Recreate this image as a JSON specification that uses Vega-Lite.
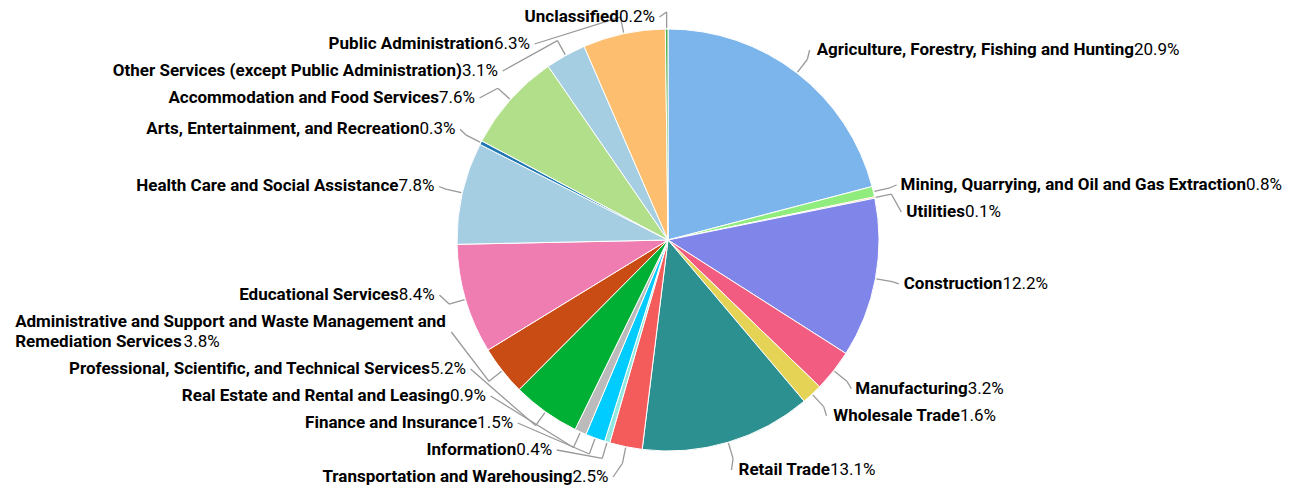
{
  "$schema": "https://vega.github.io/schema/vega-lite/v6.json",
  "width": 1292,
  "height": 489,
  "padding": 0,
  "autosize": {"type": "fit", "contains": "padding"},
  "background": "#ffffff",
  "config": {"view": {"stroke": null}, "font": "Roboto"},
  "data": {
    "values": [
      {"rank": 1, "industry": "Agriculture, Forestry, Fishing and Hunting", "share": 20.9},
      {"rank": 2, "industry": "Mining, Quarrying, and Oil and Gas Extraction", "share": 0.8},
      {"rank": 3, "industry": "Utilities", "share": 0.1},
      {"rank": 4, "industry": "Construction", "share": 12.2},
      {"rank": 5, "industry": "Manufacturing", "share": 3.2},
      {"rank": 6, "industry": "Wholesale Trade", "share": 1.6},
      {"rank": 7, "industry": "Retail Trade", "share": 13.1},
      {"rank": 8, "industry": "Transportation and Warehousing", "share": 2.5},
      {"rank": 9, "industry": "Information", "share": 0.4},
      {"rank": 10, "industry": "Finance and Insurance", "share": 1.5},
      {"rank": 11, "industry": "Real Estate and Rental and Leasing", "share": 0.9},
      {"rank": 12, "industry": "Professional, Scientific, and Technical Services", "share": 5.2},
      {"rank": 13, "industry": "Administrative and Support and Waste Management and Remediation Services", "share": 3.8},
      {"rank": 14, "industry": "Educational Services", "share": 8.4},
      {"rank": 15, "industry": "Health Care and Social Assistance", "share": 7.8},
      {"rank": 16, "industry": "Arts, Entertainment, and Recreation", "share": 0.3},
      {"rank": 17, "industry": "Accommodation and Food Services", "share": 7.6},
      {"rank": 18, "industry": "Other Services (except Public Administration)", "share": 3.1},
      {"rank": 19, "industry": "Public Administration", "share": 6.3},
      {"rank": 20, "industry": "Unclassified", "share": 0.2}
    ]
  },
  "transform": [
    {"window": [{"op": "sum", "field": "share", "as": "cum"}], "sort": [{"field": "rank", "order": "ascending"}], "frame": [null, 0]},
    {"joinaggregate": [{"op": "sum", "field": "share", "as": "total"}]},
    {"calculate": "2*PI*(datum.cum - datum.share/2)/datum.total", "as": "ang"},
    {"calculate": "sin(datum.ang) < 0 ? 'L' : 'R'", "as": "side"},
    {"calculate": "-240*cos(datum.ang)", "as": "nyd"},
    {"calculate": "format(datum.share, '.1f') + '%'", "as": "pct"},
    {"calculate": "length(datum.industry) > 55 ? lastindexof(substring(datum.industry, 0, 52), ' ') : -1", "as": "brk"},
    {"calculate": "datum.brk > 0 ? 2 : 1", "as": "lines"},
    {"calculate": "datum.brk > 0 ? substring(datum.industry, 0, datum.brk) : datum.industry", "as": "l1"},
    {"calculate": "datum.brk > 0 ? substring(datum.industry, datum.brk + 1) : ''", "as": "l2"},
    {"calculate": "17*(0.25*length(replace(datum.l1, regexp('[^ilj ,.I]','g'), '')) + 0.345*length(replace(datum.l1, regexp('[^frt()]','g'), '')) + 0.86*length(replace(datum.l1, regexp('[^mwMW]','g'), '')) + 0.655*length(replace(datum.l1, regexp('[^A-HJ-LN-VX-Z]','g'), '')) + 0.55*length(replace(datum.l1, regexp('[^a-eghknopqsuvxyz]','g'), '')))", "as": "w1"},
    {"calculate": "17*(0.25*length(replace(datum.l2, regexp('[^ilj ,.I]','g'), '')) + 0.345*length(replace(datum.l2, regexp('[^frt()]','g'), '')) + 0.86*length(replace(datum.l2, regexp('[^mwMW]','g'), '')) + 0.655*length(replace(datum.l2, regexp('[^A-HJ-LN-VX-Z]','g'), '')) + 0.55*length(replace(datum.l2, regexp('[^a-eghknopqsuvxyz]','g'), '')))", "as": "w2"},
    {"calculate": "17*(0.5615*(length(datum.pct)-2) + 0.257 + 0.715)", "as": "pw"},
    {"calculate": "datum.lines == 2 ? 47 : 27", "as": "slot"},
    {"window": [{"op": "sum", "field": "slot", "as": "cs"}, {"op": "first_value", "field": "slot", "as": "s0"}], "groupby": ["side"], "sort": [{"field": "nyd", "order": "ascending"}], "frame": [null, 0], "ignorePeers": true},
    {"calculate": "datum.cs - datum.s0/2 - datum.slot/2", "as": "off"},
    {"calculate": "datum.nyd - datum.off", "as": "v1"},
    {"window": [{"op": "max", "field": "v1", "as": "m1"}], "groupby": ["side"], "sort": [{"field": "nyd", "order": "ascending"}], "frame": [null, 0], "ignorePeers": true},
    {"calculate": "max(datum.m1, -223) + datum.off", "as": "y1"},
    {"calculate": "datum.y1 - datum.off", "as": "v2"},
    {"window": [{"op": "min", "field": "v2", "as": "m2"}], "groupby": ["side"], "sort": [{"field": "nyd", "order": "ascending"}], "frame": [0, null], "ignorePeers": true},
    {"joinaggregate": [{"op": "max", "field": "off", "as": "offLast"}], "groupby": ["side"]},
    {"calculate": "min(datum.m2, 237 - datum.offLast) + datum.off", "as": "ly"},
    {"calculate": "abs(datum.ly + 223) < 0.5 || abs(datum.ly - 237) < 0.5", "as": "ext"},
    {"calculate": "datum.ext ? datum.nyd : datum.ly", "as": "yx"},
    {"calculate": "sqrt(max(57600 - datum.yx*datum.yx, 0)) + (datum.ext ? 12 : 0)", "as": "dxl"},
    {"calculate": "datum.side == 'L' ? -datum.dxl : datum.dxl", "as": "tx"},
    {"calculate": "datum.side == 'L' ? -datum.dxl + 5 : datum.dxl - 5", "as": "cx"},
    {"calculate": "212*sin(datum.ang)", "as": "ex"},
    {"calculate": "-212*cos(datum.ang)", "as": "ey"},
    {"calculate": "228*sin(datum.ang)", "as": "bx"},
    {"calculate": "-228*cos(datum.ang)", "as": "by"},
    {"calculate": "datum.side == 'L' ? datum.tx - datum.pw : datum.tx + datum.w1", "as": "jx"},
    {"calculate": "datum.side == 'L' ? datum.tx - max(datum.w1, datum.w2 + datum.pw) : datum.tx", "as": "sx"},
    {"calculate": "datum.lines == 2 ? datum.sx + datum.w2 : datum.jx", "as": "px"},
    {"calculate": "datum.ly + (datum.lines == 2 ? 10 : 0)", "as": "py"},
    {"calculate": "datum.ly - 10", "as": "my"}
  ],
  "layer": [
    {
      "mark": {"type": "arc", "outerRadius": 211, "stroke": "#ffffff", "strokeWidth": 1},
      "encoding": {
        "theta": {"field": "share", "type": "quantitative", "stack": true},
        "order": {"field": "rank", "type": "quantitative"},
        "color": {
          "field": "industry",
          "type": "nominal",
          "legend": null,
          "scale": {
            "domain": [
              "Agriculture, Forestry, Fishing and Hunting",
              "Mining, Quarrying, and Oil and Gas Extraction",
              "Utilities",
              "Construction",
              "Manufacturing",
              "Wholesale Trade",
              "Retail Trade",
              "Transportation and Warehousing",
              "Information",
              "Finance and Insurance",
              "Real Estate and Rental and Leasing",
              "Professional, Scientific, and Technical Services",
              "Administrative and Support and Waste Management and Remediation Services",
              "Educational Services",
              "Health Care and Social Assistance",
              "Arts, Entertainment, and Recreation",
              "Accommodation and Food Services",
              "Other Services (except Public Administration)",
              "Public Administration",
              "Unclassified"
            ],
            "range": [
              "#7cb5ec", "#90ed7d", "#f7a35c", "#8085e9", "#f15c80", "#e4d354", "#2b908f", "#f45b5b", "#91e8e1", "#00ccff",
              "#bbbbbb", "#00b034", "#c94c15", "#ef7db2", "#a6cee3", "#1f78b4", "#b2df8a", "#a6cee3", "#fdbf6f", "#4cae4c"
            ]
          }
        },
        "x": {"datum": 0, "type": "quantitative", "axis": null, "scale": {"domain": [-668, 624], "nice": false, "zero": false}},
        "y": {"datum": 0, "type": "quantitative", "axis": null, "scale": {"domain": [-240, 249], "reverse": true, "nice": false, "zero": false}}
      }
    },
    {
      "mark": {"type": "rule", "stroke": "#999999", "strokeWidth": 1.3},
      "encoding": {
        "x": {"field": "ex", "type": "quantitative", "axis": null, "scale": {"domain": [-668, 624], "nice": false, "zero": false}},
        "y": {"field": "ey", "type": "quantitative", "axis": null, "scale": {"domain": [-240, 249], "reverse": true, "nice": false, "zero": false}},
        "x2": {"field": "bx"},
        "y2": {"field": "by"}
      }
    },
    {
      "mark": {"type": "rule", "stroke": "#999999", "strokeWidth": 1.3},
      "encoding": {
        "x": {"field": "bx", "type": "quantitative", "axis": null, "scale": {"domain": [-668, 624], "nice": false, "zero": false}},
        "y": {"field": "by", "type": "quantitative", "axis": null, "scale": {"domain": [-240, 249], "reverse": true, "nice": false, "zero": false}},
        "x2": {"field": "cx"},
        "y2": {"field": "ly"}
      }
    },
    {
      "transform": [{"filter": "datum.lines == 1"}],
      "mark": {"type": "text", "align": "right", "baseline": "middle", "font": "Roboto", "fontSize": 17, "fontWeight": "bold", "color": "#000000"},
      "encoding": {
        "x": {"field": "jx", "type": "quantitative", "axis": null, "scale": {"domain": [-668, 624], "nice": false, "zero": false}},
        "y": {"field": "ly", "type": "quantitative", "axis": null, "scale": {"domain": [-240, 249], "reverse": true, "nice": false, "zero": false}},
        "text": {"field": "l1", "type": "nominal"}
      }
    },
    {
      "transform": [{"filter": "datum.lines == 2"}],
      "mark": {"type": "text", "align": "left", "baseline": "middle", "font": "Roboto", "fontSize": 17, "fontWeight": "bold", "color": "#000000"},
      "encoding": {
        "x": {"field": "sx", "type": "quantitative", "axis": null, "scale": {"domain": [-668, 624], "nice": false, "zero": false}},
        "y": {"field": "my", "type": "quantitative", "axis": null, "scale": {"domain": [-240, 249], "reverse": true, "nice": false, "zero": false}},
        "text": {"field": "l1", "type": "nominal"}
      }
    },
    {
      "transform": [{"filter": "datum.lines == 2"}],
      "mark": {"type": "text", "align": "left", "baseline": "middle", "font": "Roboto", "fontSize": 17, "fontWeight": "bold", "color": "#000000"},
      "encoding": {
        "x": {"field": "sx", "type": "quantitative", "axis": null, "scale": {"domain": [-668, 624], "nice": false, "zero": false}},
        "y": {"field": "py", "type": "quantitative", "axis": null, "scale": {"domain": [-240, 249], "reverse": true, "nice": false, "zero": false}},
        "text": {"field": "l2", "type": "nominal"}
      }
    },
    {
      "mark": {"type": "text", "align": "left", "baseline": "middle", "font": "Roboto", "fontSize": 17, "fontWeight": "normal", "color": "#000000"},
      "encoding": {
        "x": {"field": "px", "type": "quantitative", "axis": null, "scale": {"domain": [-668, 624], "nice": false, "zero": false}},
        "y": {"field": "py", "type": "quantitative", "axis": null, "scale": {"domain": [-240, 249], "reverse": true, "nice": false, "zero": false}},
        "text": {"field": "pct", "type": "nominal"}
      }
    }
  ]
}
